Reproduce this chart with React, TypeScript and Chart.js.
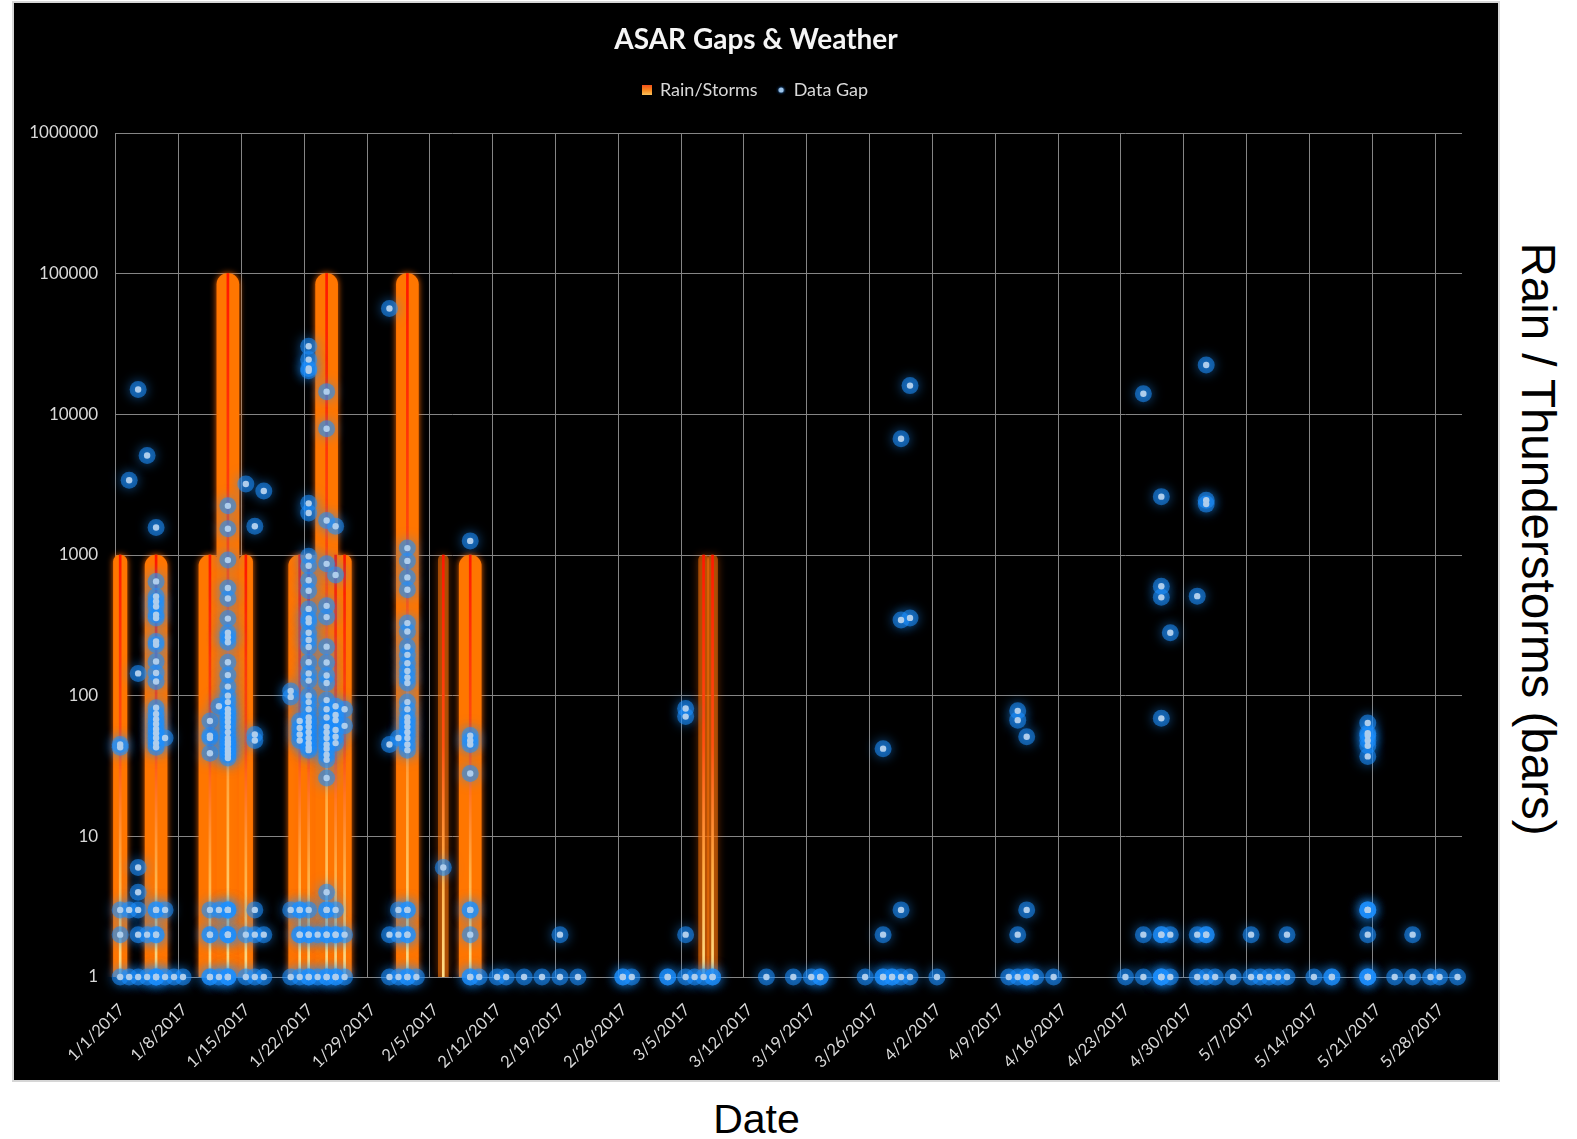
import React, { useEffect, useRef } from "react";
import { Chart, registerables } from "chart.js";

Chart.register(...registerables);

// ---------------- axis definitions ----------------
const firstDay = "1/1/2017";
const lastDay = "5/30/2017";
const weekTickLabels = [
  "1/1/2017", "1/8/2017", "1/15/2017", "1/22/2017", "1/29/2017", "2/5/2017",
  "2/12/2017", "2/19/2017", "2/26/2017", "3/5/2017", "3/12/2017", "3/19/2017",
  "3/26/2017", "4/2/2017", "4/9/2017", "4/16/2017", "4/23/2017", "4/30/2017",
  "5/7/2017", "5/14/2017", "5/21/2017", "5/28/2017",
];
const yTickValues = [1, 10, 100, 1000, 10000, 100000, 1000000];

// ---------------- Rain / Storms (bars) ----------------
const stormDates = ["1/5/2017", "1/11/2017", "1/13/2017", "1/21/2017", "1/22/2017", "1/24/2017", "2/2/2017", "2/9/2017"];
const stormValues = [1000, 1000, 100000, 1000, 1000, 100000, 100000, 1000];
const rainDates = ["1/1/2017", "1/15/2017", "1/25/2017", "1/26/2017"];
const rainValues = [1000, 1000, 1000, 1000];
const lightRainDates = ["2/6/2017", "3/7/2017", "3/8/2017"];
const lightRainValues = [1000, 1000, 1000];

// ---------------- Data gaps (points) ----------------
const gapDates = [
  "1/1/2017", "1/2/2017", "1/3/2017", "1/4/2017", "1/5/2017", "1/6/2017", "1/7/2017", "1/8/2017",
  "1/11/2017", "1/12/2017", "1/13/2017", "1/15/2017", "1/16/2017", "1/17/2017",
  "1/20/2017", "1/21/2017", "1/22/2017", "1/23/2017", "1/24/2017", "1/25/2017", "1/26/2017",
  "1/31/2017", "2/1/2017", "2/2/2017", "2/3/2017", "2/6/2017", "2/9/2017", "2/10/2017",
  "2/12/2017", "2/13/2017", "2/15/2017", "2/17/2017", "2/19/2017", "2/21/2017", "2/26/2017", "2/27/2017",
  "3/3/2017", "3/5/2017", "3/6/2017", "3/7/2017", "3/8/2017", "3/14/2017", "3/17/2017", "3/19/2017", "3/20/2017",
  "3/25/2017", "3/27/2017", "3/28/2017", "3/29/2017", "3/30/2017", "4/2/2017",
  "4/10/2017", "4/11/2017", "4/12/2017", "4/13/2017", "4/15/2017",
  "4/23/2017", "4/25/2017", "4/27/2017", "4/28/2017", "5/1/2017", "5/2/2017", "5/3/2017", "5/5/2017",
  "5/7/2017", "5/8/2017", "5/9/2017", "5/10/2017", "5/11/2017", "5/14/2017", "5/16/2017", "5/20/2017",
  "5/23/2017", "5/25/2017", "5/27/2017", "5/28/2017", "5/30/2017",
];
const gapValues: number[][] = [
  [1, 2, 3, 43, 45],
  [1, 3, 3400],
  [1, 2, 3, 4, 6, 144, 15000],
  [1, 2, 5100],
  [1, 1, 1, 2, 2, 3, 3, 43, 46, 50, 54, 58, 63, 68, 74, 82, 126, 145, 175, 230, 243, 356, 376, 430, 467, 507, 649, 1570],
  [1, 3, 50],
  [1],
  [1],
  [1, 1, 2, 2, 3, 39, 50, 52, 66],
  [1, 3, 84],
  [1, 1, 1, 2, 2, 2, 3, 3, 3, 36, 38, 40, 42, 45, 47, 50, 55, 60, 65, 70, 75, 80, 90, 100, 116, 140, 173, 240, 260, 280, 353, 491, 582, 920, 1535, 2236],
  [1, 2, 3200],
  [1, 2, 3, 48, 53, 1600],
  [1, 2, 2850],
  [1, 3, 98, 108],
  [1, 2, 2, 3, 3, 48, 53, 59, 66],
  [1, 1, 2, 2, 3, 41, 43, 46, 50, 55, 60, 65, 70, 80, 90, 100, 128, 144, 173, 222, 249, 280, 333, 354, 414, 557, 662, 838, 978, 1990, 2330, 20400, 21200, 24500, 30500],
  [1, 2],
  [1, 1, 2, 2, 3, 3, 4, 26, 35, 38, 42, 45, 50, 55, 60, 70, 80, 93, 123, 139, 172, 223, 362, 435, 865, 1760, 7900, 14500],
  [1, 1, 2, 2, 3, 46, 51, 57, 67, 73, 84, 720, 1600],
  [1, 2, 61, 80],
  [1, 2, 45, 56600],
  [1, 2, 3, 50],
  [1, 1, 2, 2, 3, 3, 41, 45, 50, 55, 60, 65, 70, 80, 90, 123, 135, 150, 170, 195, 223, 286, 328, 566, 693, 908, 1120],
  [1],
  [6],
  [1, 1, 2, 3, 3, 28, 45, 48, 52, 1260],
  [1],
  [1],
  [1],
  [1],
  [1],
  [1, 2],
  [1],
  [1, 1],
  [1],
  [1, 1],
  [1, 2, 71, 81],
  [1],
  [1],
  [1, 1],
  [1],
  [1],
  [1],
  [1, 1],
  [1],
  [1, 1, 2, 42],
  [1, 1],
  [1, 3, 345, 6700],
  [1, 357, 16000],
  [1],
  [1],
  [1, 2, 67, 78],
  [1, 1, 3, 51],
  [1],
  [1],
  [1],
  [1, 2, 14000],
  [1, 1, 1, 2, 2, 69, 500, 600, 2600],
  [1, 2, 280],
  [1, 2, 510],
  [1, 2, 2, 2300, 2450, 22400],
  [1],
  [1],
  [1, 2],
  [1],
  [1],
  [1],
  [1, 2],
  [1],
  [1, 1],
  [1, 1, 1, 2, 3, 3, 3, 37, 44, 48, 52, 54, 64],
  [1],
  [1, 2],
  [1],
  [1],
  [1],
];

// ---------------- helpers ----------------
const dayIndex = (s: string) => {
  const [m, d, y] = s.split("/").map(Number);
  const [m0, d0, y0] = firstDay.split("/").map(Number);
  return Math.round((Date.UTC(y, m - 1, d) - Date.UTC(y0, m0 - 1, d0)) / 86400000);
};

const toXY = (dates: string[], values: number[]) =>
  dates.map((d, i) => ({ x: dayIndex(d), y: values[i] }));

const glowPlugin = {
  id: "glowPlugin",
  beforeDatasetDraw(chart: any, args: any) {
    const ds = chart.data.datasets[args.index];
    if (!ds || !ds.glow) return;
    const ctx = chart.ctx;
    ctx.save();
    ctx.shadowColor = ds.glow.color;
    ctx.shadowBlur = ds.glow.blur;
    ctx.shadowOffsetX = 0;
    ctx.shadowOffsetY = 0;
  },
  afterDatasetDraw(chart: any, args: any) {
    const ds = chart.data.datasets[args.index];
    if (!ds || !ds.glow) return;
    chart.ctx.restore();
  },
};

function makeRainIcon() {
  const c = document.createElement("canvas");
  c.width = 10;
  c.height = 10;
  const g = c.getContext("2d")!;
  const grad = g.createLinearGradient(0, 0, 0, 10);
  grad.addColorStop(0, "#f2501a");
  grad.addColorStop(0.5, "#f7861e");
  grad.addColorStop(1, "#fbc25a");
  g.fillStyle = grad;
  g.fillRect(0, 0, 10, 10);
  return c;
}

function makeDotIcon() {
  const c = document.createElement("canvas");
  c.width = 10;
  c.height = 10;
  const g = c.getContext("2d")!;
  g.shadowColor = "rgba(40,140,255,0.9)";
  g.shadowBlur = 3;
  g.fillStyle = "#9ec5ea";
  g.beginPath();
  g.arc(5, 5, 2.6, 0, Math.PI * 2);
  g.fill();
  return c;
}

const gridColor = "#858585";
const labelColor = "#d9d9d9";

export default function App() {
  const canvasRef = useRef<HTMLCanvasElement | null>(null);

  useEffect(() => {
    if (!canvasRef.current) return;
    const xMin = dayIndex(firstDay) - 0.5;
    const xMax = dayIndex(lastDay) + 0.5;

    const stormData = toXY(stormDates, stormValues);
    const rainData = toXY(rainDates, rainValues);
    const lightData = toXY(lightRainDates, lightRainValues);
    const coreData = [...stormData, ...rainData, ...lightData];
    const gapPoints = gapDates.flatMap((d, i) =>
      gapValues[i].map((v) => ({ x: dayIndex(d), y: v }))
    );

    const coreColor = (c: any) => {
      const chart = c.chart;
      const area = chart.chartArea;
      if (!area || !c.raw) return "#ff3300";
      const yTop = chart.scales.y.getPixelForValue(c.raw.y);
      const g = chart.ctx.createLinearGradient(0, yTop, 0, area.bottom);
      g.addColorStop(0, "#ff1800");
      g.addColorStop(0.45, "#ff5010");
      g.addColorStop(0.75, "#ffae45");
      g.addColorStop(1, "#ffe08a");
      return g;
    };

    const barCommon = {
      type: "bar" as const,
      xAxisID: "x",
      yAxisID: "y",
      grouped: false,
      borderWidth: 0,
      clip: { left: false, top: false, right: false, bottom: 0 },
    };

    const rainIcon = makeRainIcon();
    const dotIcon = makeDotIcon();

    const chart = new Chart(canvasRef.current, {
      type: "scatter",
      data: {
        datasets: [
          {
            ...barCommon,
            label: "Rain/Storms",
            data: stormData,
            barThickness: 22,
            backgroundColor: "#ff7600",
            borderRadius: { topLeft: 11, topRight: 11, bottomLeft: 0, bottomRight: 0 },
            glow: { color: "rgba(255,105,0,0.95)", blur: 6 },
            order: 20,
          } as any,
          {
            ...barCommon,
            label: "Rain",
            data: rainData,
            barThickness: 13.5,
            backgroundColor: "#ff7600",
            borderRadius: { topLeft: 6.75, topRight: 6.75, bottomLeft: 0, bottomRight: 0 },
            glow: { color: "rgba(255,105,0,0.95)", blur: 6 },
            order: 19,
          } as any,
          {
            ...barCommon,
            label: "Light rain",
            data: lightData,
            barThickness: 10,
            backgroundColor: "rgba(255,120,10,0.55)",
            borderRadius: { topLeft: 5, topRight: 5, bottomLeft: 0, bottomRight: 0 },
            glow: { color: "rgba(255,100,0,0.75)", blur: 8 },
            order: 18,
          } as any,
          {
            ...barCommon,
            label: "Rain core",
            data: coreData,
            barThickness: 2,
            backgroundColor: coreColor,
            order: 10,
          } as any,
          {
            type: "scatter",
            label: "Data Gap glow",
            data: gapPoints,
            xAxisID: "x",
            yAxisID: "y",
            pointRadius: 8.5,
            pointBorderWidth: 0,
            pointBackgroundColor: "rgba(30,144,255,0.55)",
            glow: { color: "rgba(30,144,255,1)", blur: 12 },
            clip: false,
            order: 2,
          } as any,
          {
            type: "scatter",
            label: "Data Gap",
            data: gapPoints,
            xAxisID: "x",
            yAxisID: "y",
            pointRadius: 3.2,
            pointBorderWidth: 0,
            pointBackgroundColor: "#aecdec",
            clip: false,
            order: 1,
          } as any,
        ],
      },
      options: {
        responsive: false,
        animation: false,
        events: [],
        layout: { padding: 0 },
        plugins: {
          tooltip: { enabled: false },
          title: {
            display: true,
            text: "ASAR Gaps & Weather",
            color: "#f5f5f5",
            font: { family: "Lato", size: 28, weight: "bold", lineHeight: 1.2 },
            padding: { top: 20.2, bottom: 4.2 },
          },
          legend: {
            display: true,
            position: "top",
            labels: {
              color: labelColor,
              font: { family: "Lato", size: 18 },
              usePointStyle: true,
              boxWidth: 7,
              boxHeight: 10,
              padding: 20,
              generateLabels: () => [
                {
                  text: "Rain/Storms",
                  pointStyle: rainIcon as any,
                  fillStyle: "#f7861e",
                  strokeStyle: "#f7861e",
                  lineWidth: 0,
                  hidden: false,
                  datasetIndex: 0,
                  fontColor: labelColor,
                },
                {
                  text: "Data Gap",
                  pointStyle: dotIcon as any,
                  fillStyle: "#9ec5ea",
                  strokeStyle: "#9ec5ea",
                  lineWidth: 0,
                  hidden: false,
                  datasetIndex: 5,
                  fontColor: labelColor,
                },
              ],
            },
          },
        },
        scales: {
          x: {
            type: "linear",
            position: "bottom",
            min: xMin,
            max: xMax,
            offset: false,
            grid: { color: gridColor, lineWidth: 1, drawTicks: false, offset: false },
            border: { display: false },
            ticks: {
              autoSkip: false,
              maxRotation: 45,
              minRotation: 45,
              color: labelColor,
              font: { family: "Lato", size: 16.5 },
              padding: 23,
              labelOffset: 6,
              callback: (_v: any, i: number) => weekTickLabels[i] ?? "",
            },
            afterBuildTicks: (s: any) => {
              s.ticks = weekTickLabels.map((l) => ({ value: dayIndex(l) - 0.5 }));
            },
            afterFit: (s: any) => {
              s.height = 103;
            },
          },
          y: {
            type: "logarithmic",
            position: "left",
            min: yTickValues[0],
            max: yTickValues[yTickValues.length - 1],
            grid: { color: gridColor, lineWidth: 1, drawTicks: false },
            border: { display: false },
            ticks: {
              autoSkip: false,
              color: labelColor,
              font: { family: "Lato", size: 17 },
              padding: 17.5,
              callback: (v: any) => String(v),
            },
            afterBuildTicks: (s: any) => {
              s.ticks = yTickValues.map((v) => ({ value: v }));
            },
            afterFit: (s: any) => {
              s.width = 101.7;
            },
          },
          xTop: {
            type: "linear",
            position: "top",
            display: true,
            grid: { display: false },
            border: { display: false },
            ticks: { display: false },
            afterFit: (s: any) => {
              s.height = 24;
            },
          },
          yRight: {
            type: "linear",
            position: "right",
            display: true,
            grid: { display: false },
            border: { display: false },
            ticks: { display: false },
            afterFit: (s: any) => {
              s.width = 36;
            },
          },
        },
      } as any,
      plugins: [glowPlugin],
    });

    return () => {
      chart.destroy();
    };
  }, []);

  return (
    <div
      style={{
        position: "absolute",
        left: 0,
        top: 0,
        width: 1577,
        height: 1139,
        background: "#ffffff",
        overflow: "hidden",
      }}
    >
      <div
        style={{
          position: "absolute",
          left: 14,
          top: 3,
          width: 1484,
          height: 1077,
          background: "#000000",
          boxShadow: "0 0 0 2px #d6d6d6",
        }}
      >
        <canvas
          ref={canvasRef}
          width={1484}
          height={1077}
          style={{ display: "block", width: 1484, height: 1077 }}
        />
      </div>
      <div
        style={{
          position: "absolute",
          left: 0,
          width: 1513,
          top: 1099,
          textAlign: "center",
          fontFamily: "'Liberation Sans', Arial, sans-serif",
          fontSize: 41,
          lineHeight: "41px",
          color: "#000",
          whiteSpace: "nowrap",
        }}
      >
        Date
      </div>
      <div
        style={{
          position: "absolute",
          left: 1538 - 360,
          top: 539 - 25,
          width: 720,
          height: 50,
          transform: "rotate(90deg)",
          transformOrigin: "50% 50%",
          textAlign: "center",
          fontFamily: "'Liberation Sans', Arial, sans-serif",
          fontSize: 47.5,
          lineHeight: "50px",
          color: "#000",
          whiteSpace: "nowrap",
        }}
      >
        Rain / Thunderstorms (bars)
      </div>
    </div>
  );
}
